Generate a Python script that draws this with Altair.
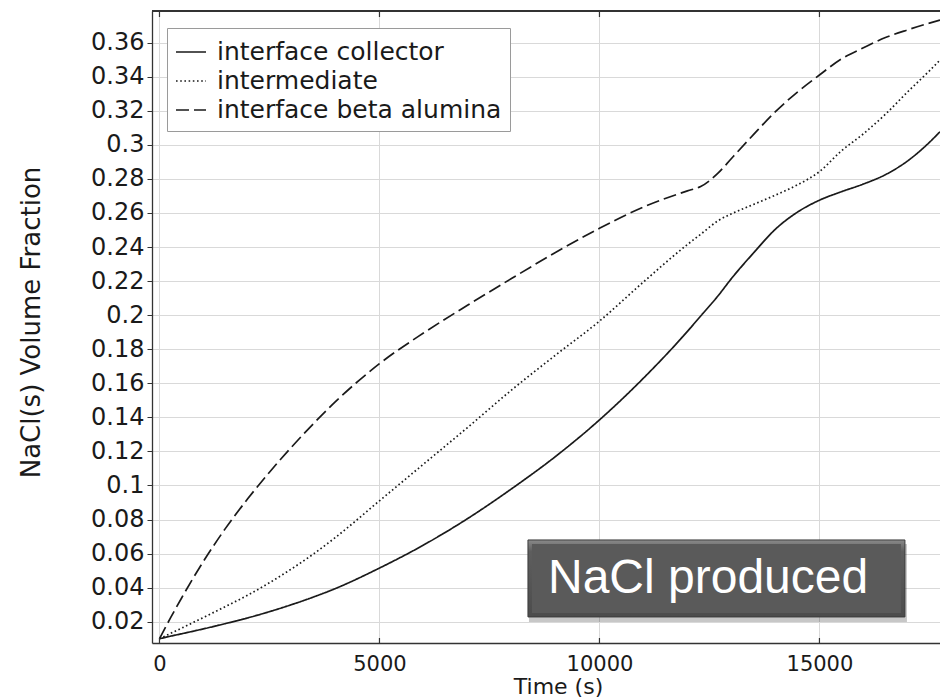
import altair as alt
import pandas as pd

# Simulation output: NaCl(s) volume fraction at three positions in the cell
time_s = [0, 250, 500, 1000, 1500, 2000, 2500, 3000, 3500, 4000, 5000, 6000, 7000,
          8000, 9000, 10000, 11000, 12000, 12300, 12700, 13000, 13500, 14000, 14500,
          15000, 15500, 16000, 16500, 17000, 17500, 17740]

interface_collector = [0.010, 0.0115, 0.0129, 0.0158, 0.0189, 0.0222, 0.0259, 0.0300,
                       0.0345, 0.0395, 0.0515, 0.065, 0.0805, 0.098, 0.117, 0.1385,
                       0.163, 0.1905, 0.1995, 0.2115, 0.2215, 0.2365, 0.2505, 0.2605,
                       0.2675, 0.2725, 0.277, 0.2825, 0.2905, 0.3015, 0.3077]

intermediate = [0.010, 0.0131, 0.0162, 0.0225, 0.0289, 0.0355, 0.0429, 0.051, 0.0598,
                0.0695, 0.091, 0.1125, 0.134, 0.156, 0.1765, 0.1965, 0.2195, 0.2415,
                0.2475, 0.2555, 0.2595, 0.265, 0.2705, 0.2765, 0.2843, 0.2965, 0.3065,
                0.318, 0.331, 0.3435, 0.3498]

interface_beta_alumina = [0.010, 0.0222, 0.0338, 0.0555, 0.0748, 0.092, 0.1078, 0.1225,
                          0.1363, 0.1492, 0.1715, 0.1895, 0.2058, 0.2215, 0.2368, 0.251,
                          0.2635, 0.273, 0.2755, 0.2835, 0.292, 0.306, 0.3195, 0.331,
                          0.341, 0.3505, 0.357, 0.363, 0.3675, 0.3715, 0.3733]

series_names = ["interface collector", "intermediate", "interface beta alumina"]
x_ticks = [0, 5000, 10000, 15000]
y_ticks = [round(0.02 * k, 2) for k in range(1, 19)]

rows = []
for name, vals in zip(series_names,
                      [interface_collector, intermediate, interface_beta_alumina]):
    for t, v in zip(time_s, vals):
        rows.append({"time": t, "fraction": v, "series": name})
df = pd.DataFrame(rows)
ticks_df = pd.DataFrame({"tick": x_ticks})

# Callout box, anchored in data units
callout_text = ["NaCl produced"]
callout = pd.DataFrame({
    "x": [8375], "x2": [16943], "y": [0.0680], "y2": [0.0228],
    "tx": [8830], "ty": [0.0448], "label": callout_text,
})

X_DOMAIN = [-170, 17740]
Y_DOMAIN = [0.0075, 0.3786]
PLOT_W, PLOT_H = 788, 632
FONT = "DejaVu Sans"
INK = "#1a1a1a"
FRAME = "#333333"

x_scale = alt.Scale(domain=X_DOMAIN, nice=False, zero=False)
y_scale = alt.Scale(domain=Y_DOMAIN, nice=False, zero=False)

x_axis = alt.Axis(
    values=x_ticks, tickCount=len(x_ticks), format="d", title="Time (s)",
    grid=True, gridColor="#d9d9d9", domainColor=FRAME, domainWidth=1.3,
    ticks=False, labelFont=FONT, labelFontSize=21, labelColor=INK,
    labelPadding=10, labelFlush=False, labelOverlap=False,
    titleFont=FONT, titleFontSize=22, titleFontWeight="normal", titleColor=INK,
    titleX=406, titleY=50, titleBaseline="alphabetic",
)
y_axis = alt.Axis(
    values=y_ticks, tickCount=len(y_ticks) + 2, format=".2~f",
    title="NaCl(s) Volume Fraction", grid=True, gridColor="#d9d9d9",
    domainColor=FRAME, domainWidth=1.3, tickColor=FRAME, tickSize=5,
    labelFont=FONT, labelFontSize=24, labelColor=INK, labelPadding=3,
    labelFlush=False, labelOverlap=False,
    titleFont=FONT, titleFontSize=26, titleFontWeight="normal", titleColor=INK,
    titleX=-121, titleY=311, titleAngle=-90, titleAlign="center",
    titleBaseline="middle",
)

lines = alt.Chart(df).mark_line(
    clip=True, interpolate="monotone", strokeWidth=1.7, color=INK
).encode(
    x=alt.X("time:Q", scale=x_scale, axis=x_axis),
    y=alt.Y("fraction:Q", scale=y_scale, axis=y_axis),
    strokeDash=alt.StrokeDash(
        "series:N",
        title=None,
        scale=alt.Scale(domain=series_names, range=[[1, 0], [1.6, 2.6], [13, 5]]),
        sort=series_names,
        legend=alt.Legend(
            orient="none", legendX=15, legendY=17,
            labelFont=FONT, labelFontSize=25, labelColor=INK, labelLimit=400,
            symbolType="stroke", symbolSize=900, symbolStrokeWidth=1.6,
            symbolStrokeColor=INK, labelOffset=10, padding=8, rowPadding=0,
            strokeColor="#9a9a9a", fillColor="white",
        ),
    ),
    detail="series:N",
)

# Top frame line of the plot area
top_frame = alt.Chart(df).mark_rule(color=FRAME, strokeWidth=1.3).encode(
    x=alt.value(0), x2=alt.value(PLOT_W), y=alt.value(0)
)

# Inward-pointing time ticks on the top and bottom frame
top_ticks = alt.Chart(ticks_df).mark_rule(color=FRAME, strokeWidth=1.2).encode(
    x=alt.X("tick:Q", scale=x_scale), y=alt.value(0), y2=alt.value(6)
)
bottom_ticks = alt.Chart(ticks_df).mark_rule(color=FRAME, strokeWidth=1.2).encode(
    x=alt.X("tick:Q", scale=x_scale), y=alt.value(PLOT_H - 5), y2=alt.value(PLOT_H)
)

box_shadow = alt.Chart(callout).mark_rect(
    color="black", opacity=0.22, xOffset=1, x2Offset=2, yOffset=4, y2Offset=5
).encode(x="x:Q", x2="x2:Q", y="y:Q", y2="y2:Q")

box_bevel = alt.Chart(callout).mark_rect(
    fill=alt.Gradient(
        gradient="linear", x1=0, x2=0, y1=0, y2=1,
        stops=[alt.GradientStop(color="#8a8a8a", offset=0),
               alt.GradientStop(color="#5e5e5e", offset=0.15),
               alt.GradientStop(color="#4c4c4c", offset=1)],
    ),
    stroke="#3c3c3c", strokeWidth=1,
).encode(x="x:Q", x2="x2:Q", y="y:Q", y2="y2:Q")

box_face = alt.Chart(callout).mark_rect(
    color="#5a5a5a", xOffset=4, x2Offset=-4, yOffset=4, y2Offset=-4
).encode(x="x:Q", x2="x2:Q", y="y:Q", y2="y2:Q")

box_text = alt.Chart(callout).mark_text(
    font="Liberation Sans", fontSize=48, color="white", align="left",
    baseline="middle"
).encode(x="tx:Q", y="ty:Q", text="label:N")

chart = alt.layer(
    lines, top_frame, top_ticks, bottom_ticks,
    box_shadow, box_bevel, box_face, box_text
).properties(
    width=PLOT_W, height=PLOT_H,
    autosize=alt.AutoSizeParams(type="none"),
    padding={"left": 152, "top": 11, "right": 0, "bottom": 57},
    background="white",
).configure_view(strokeWidth=0)

chart.save("out.html", embed_options={"renderer": "svg", "actions": False})
